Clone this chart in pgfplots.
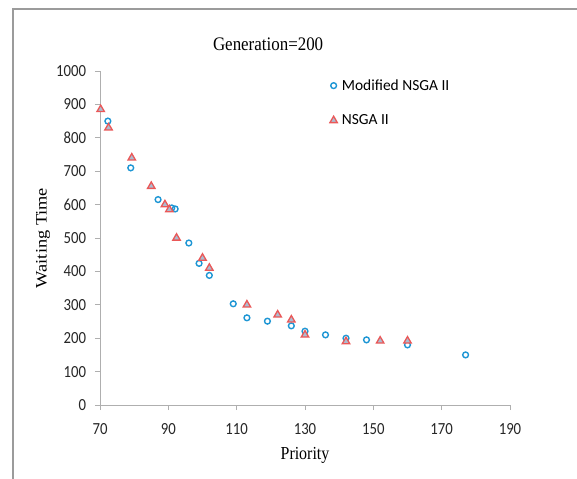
\documentclass[border=0pt]{standalone}
\usepackage{fontspec}
\setmainfont{Liberation Serif}
\newfontfamily\calibri{Carlito}
\usepackage{pgfplots}
\pgfplotsset{compat=1.18}
\definecolor{mblue}{RGB}{30,150,212}
\definecolor{mred}{RGB}{234,88,88}
\definecolor{mfill}{RGB}{172,188,208}
\definecolor{axgray}{RGB}{175,175,175}
\definecolor{framegray}{RGB}{155,155,155}
\begin{document}
\begin{tikzpicture}
\useasboundingbox (-100bp,-74bp) rectangle (477bp,405bp);
\draw[framegray, line width=1.3bp] (-87bp,-74bp) -- (-87bp,396bp) -- (477bp,396bp);
\begin{axis}[
  at={(0bp,0bp)}, anchor=south west,
  scale only axis, width=410bp, height=334bp,
  xmin=70, xmax=190, ymin=0, ymax=1000,
  xtick={70,90,...,190}, ytick={0,100,...,1000},
  axis x line*=bottom, axis y line*=left,
  axis line style={axgray, line width=0.8bp},
  tick style={axgray, line width=0.8bp},
  major tick length=5bp, tick align=outside,
  ticklabel style={font=\calibri\fontsize{14.8}{16}\selectfont, text=black!85, yscale=1.15},
  xticklabel shift=9bp, yticklabel shift=5.5bp,
  /pgf/number format/assume math mode=true,
  /pgf/number format/1000 sep={},
  xlabel={Priority}, ylabel={Waiting Time},
  label style={font=\fontsize{16}{18}\selectfont},
  xlabel style={at={(0.5,-0.15)}, anchor=center, yscale=1.15},
  ylabel style={at={(-0.139,0.5)}, anchor=center, xscale=1.15},
  title={Generation=200},
  title style={font=\fontsize{17}{20}\selectfont, at={(0.41,1.063)}, anchor=center, yscale=1.13},
  legend style={draw=none, fill=none, at={(0.553,0.987)}, anchor=north west,
    font=\calibri\fontsize{15.5}{17}\selectfont, row sep=19bp,
    /tikz/every odd column/.append style={column sep=2.5bp}},
  legend cell align=left,
  legend image code/.code={\draw plot[only marks] coordinates {(0.06cm,0cm)};},
]
\addplot[only marks, mark=o, mark size=2.9bp, mark options={draw=mblue, fill=white, line width=1.4bp}]
coordinates {
(72.3,850) (79,710) (87,615) (91,590) (92,587) (96,485) (99,424) (102,388)
(109,303) (113,261) (119,251) (126,237) (130,221) (136,210) (142,200)
(148,195) (160,180) (177,150)
};
\addlegendentry{Modified NSGA II}
\addplot[only marks, mark=triangle*, mark size=4.3bp, mark options={draw=mred, fill=mfill, line width=1.3bp}]
coordinates {
(70.2,885) (72.5,830) (79.3,740) (85,655) (89,600) (90.3,585) (92.4,500)
(100,440) (102,410) (113,300) (122,270) (126,255) (130,210) (142,190)
(152,192) (160,192)
};
\addlegendentry{NSGA II}
\end{axis}
\end{tikzpicture}
\end{document}
